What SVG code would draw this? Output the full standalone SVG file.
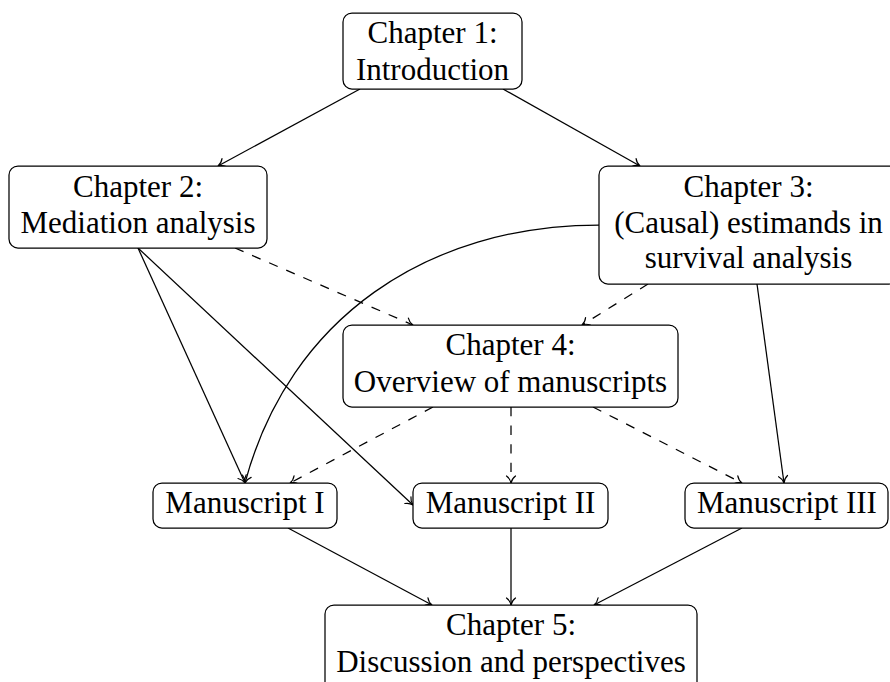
<svg xmlns="http://www.w3.org/2000/svg" width="890" height="682" viewBox="0 0 890 682">
<style>
.box{fill:#fff;stroke:#000;stroke-width:1.25}
.t{font-family:"Liberation Serif","Times New Roman",serif;font-size:31px;fill:#000;text-anchor:middle}
.e{fill:none;stroke:#000;stroke-width:1.25;marker-end:url(#arr)}
.d{stroke-dasharray:9.3 9.3}
</style>
<defs>
<marker id="arr" markerUnits="userSpaceOnUse" viewBox="-9 -6 11 12" markerWidth="11" markerHeight="12" refX="0" refY="0" orient="auto">
<path d="M -7 -4.5 C -5 -1.8 -2 -0.4 0 0 C -2 0.4 -5 1.8 -7 4.5" fill="none" stroke="#000" stroke-width="1.2" stroke-linecap="round"/>
</marker>
</defs>
<rect width="890" height="682" fill="#fff"/>
<g id="connectors">
<path class="e" d="M360 89 L218 166"/>
<path class="e" d="M503 89 L640 166"/>
<path class="e d" d="M235 248 L413 325"/>
<path class="e d" d="M648 284 L582 325"/>
<path class="e" d="M599 225 C428 225 289 318 245 483"/>
<path class="e" d="M138 248 L245 483"/>
<path class="e" d="M138 248 L413 505"/>
<path class="e" d="M757 284 L784 483"/>
<path class="e d" d="M433 407 L290 483"/>
<path class="e d" d="M511 407 L511 483"/>
<path class="e d" d="M593 407 L742 483"/>
<path class="e" d="M288 528 L432 605"/>
<path class="e" d="M511 528 L511 605"/>
<path class="e" d="M742 528 L594 605"/>
</g>
<g id="ch1"><rect class="box" x="343" y="13" width="179" height="76" rx="9"/><text class="t" x="432.5" y="43">Chapter 1:</text><text class="t" x="432.5" y="80">Introduction</text></g>
<g id="ch2"><rect class="box" x="9" y="166" width="258" height="82" rx="9"/><text class="t" x="138" y="197">Chapter 2:</text><text class="t" x="138" y="233">Mediation analysis</text></g>
<g id="ch3"><rect class="box" x="599" y="166" width="299" height="118" rx="9"/><text class="t" x="748.5" y="197">Chapter 3:</text><text class="t" x="748.5" y="233">(Causal) estimands in</text><text class="t" x="748.5" y="268">survival analysis</text></g>
<g id="ch4"><rect class="box" x="343" y="325" width="335" height="82" rx="9"/><text class="t" x="510.5" y="355">Chapter 4:</text><text class="t" x="510.5" y="392">Overview of manuscripts</text></g>
<g id="ms1"><rect class="box" x="153" y="483" width="184" height="45" rx="9"/><text class="t" x="245" y="513">Manuscript I</text></g>
<g id="ms2"><rect class="box" x="413" y="483" width="195" height="45" rx="9"/><text class="t" x="510.5" y="513">Manuscript II</text></g>
<g id="ms3"><rect class="box" x="685" y="483" width="203" height="45" rx="9"/><text class="t" x="787" y="513">Manuscript III</text></g>
<g id="ch5"><rect class="box" x="325" y="605" width="372" height="90" rx="9"/><text class="t" x="511" y="635">Chapter 5:</text><text class="t" x="511" y="672">Discussion and perspectives</text></g>
</svg>
